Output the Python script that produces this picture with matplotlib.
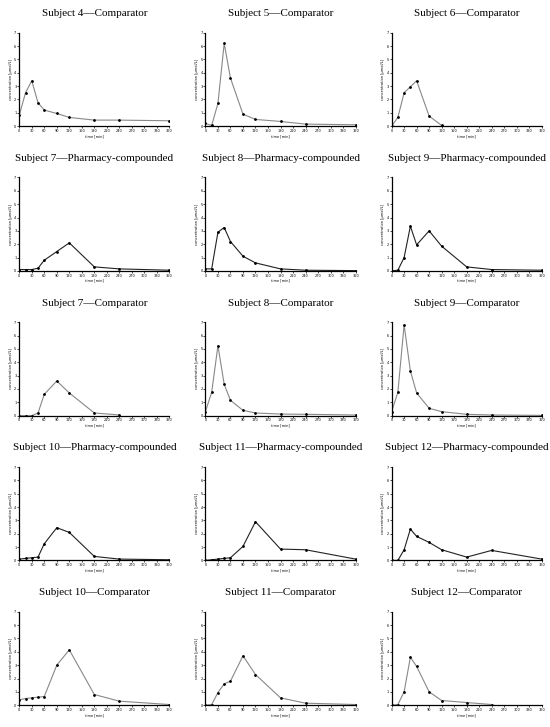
import numpy as np
import matplotlib; matplotlib.use("Agg")
import matplotlib.pyplot as plt

T = [0, 15, 30, 45, 60, 90, 120, 180, 240, 360]
T9 = T[:9]
T7 = T[:7]

titles = [
    "Subject 4\u2014Comparator", "Subject 5\u2014Comparator", "Subject 6\u2014Comparator",
    "Subject 7\u2014Pharmacy-compounded", "Subject 8\u2014Pharmacy-compounded", "Subject 9\u2014Pharmacy-compounded",
    "Subject 7\u2014Comparator", "Subject 8\u2014Comparator", "Subject 9\u2014Comparator",
    "Subject 10\u2014Pharmacy-compounded", "Subject 11\u2014Pharmacy-compounded", "Subject 12\u2014Pharmacy-compounded",
    "Subject 10\u2014Comparator", "Subject 11\u2014Comparator", "Subject 12\u2014Comparator",
]
times = [T, T, T7, T, T, T, T9, T, T, T, T, T, T, T, T9]
conc = [
    [0.8, 2.5, 3.4, 1.75, 1.2, 0.95, 0.65, 0.45, 0.45, 0.4],
    [0.2, 0.05, 1.7, 6.2, 3.6, 0.9, 0.5, 0.35, 0.15, 0.1],
    [0.0, 0.65, 2.5, 2.95, 3.4, 0.75, 0.05],
    [0.1, 0.1, 0.1, 0.2, 0.8, 1.45, 2.1, 0.3, 0.15, 0.05],
    [0.15, 0.15, 2.9, 3.25, 2.2, 1.1, 0.6, 0.15, 0.05, 0.02],
    [0.0, 0.05, 1.0, 3.35, 1.95, 3.0, 1.85, 0.3, 0.1, 0.05],
    [0.0, 0.0, 0.0, 0.2, 1.6, 2.6, 1.7, 0.2, 0.05],
    [0.3, 1.75, 5.25, 2.35, 1.15, 0.4, 0.2, 0.12, 0.1, 0.05],
    [0.3, 1.75, 6.8, 3.35, 1.7, 0.55, 0.3, 0.1, 0.05, 0.02],
    [0.1, 0.15, 0.2, 0.25, 1.25, 2.45, 2.1, 0.3, 0.1, 0.05],
    [0.0, 0.05, 0.1, 0.15, 0.2, 1.05, 2.9, 0.85, 0.8, 0.1],
    [0.0, 0.0, 0.8, 2.35, 1.8, 1.35, 0.8, 0.25, 0.75, 0.1],
    [0.4, 0.5, 0.55, 0.6, 0.65, 3.0, 4.15, 0.8, 0.3, 0.05],
    [0.0, 0.05, 0.95, 1.6, 1.8, 3.7, 2.3, 0.55, 0.15, 0.05],
    [0.0, 0.05, 1.0, 3.6, 2.9, 1.0, 0.35, 0.2, 0.05],
]

fig, axes = plt.subplots(5, 3, figsize=(5.5, 7.27), dpi=100)
for i, ax in enumerate(axes.flat):
    pc = "Pharmacy" in titles[i]
    color = "#222222" if pc else "#888888"
    ax.plot(times[i], conc[i], color=color, lw=0.8, marker="o", ms=1.0, mfc="black", mec="black")
    ax.set_xlim(0, 360); ax.set_ylim(0, 7)
    ax.set_xticks(range(0, 361, 30)); ax.set_yticks(range(0, 8))
    ax.tick_params(labelsize=2.5, length=1.2, width=0.5, pad=0.8)
    for s in ["top", "right"]:
        ax.spines[s].set_visible(False)
    for s in ["left", "bottom"]:
        ax.spines[s].set_linewidth(0.9)
    ax.set_xlabel("time [min]", fontsize=2.5, labelpad=0.8)
    ax.set_ylabel("concentration [\u00b5mol/L]", fontsize=2.5, labelpad=1)
    ax.set_title(titles[i], fontsize=8, family="Liberation Serif", pad=12)
plt.subplots_adjust(left=0.035, right=0.985, top=0.955, bottom=0.03, wspace=0.24, hspace=0.55)
fig.savefig("out.png", dpi=100)
